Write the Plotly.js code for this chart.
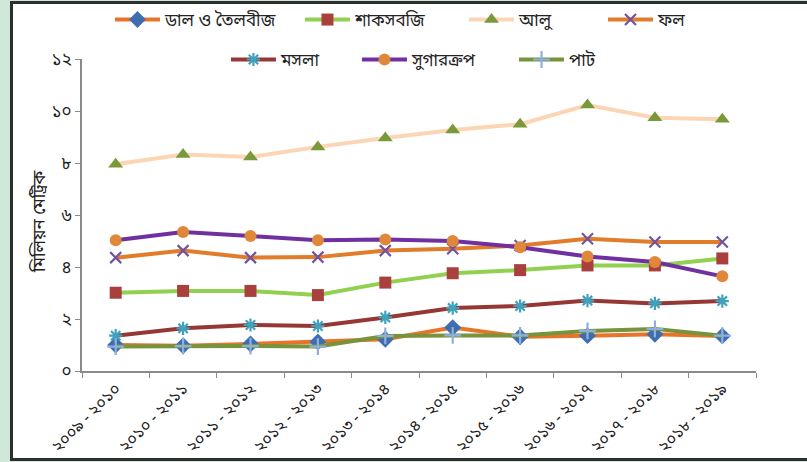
<!DOCTYPE html>
<html>
<head>
<meta charset="utf-8">
<script src="https://cdn.plot.ly/plotly-3.0.1.min.js"></script>
<style>
  html, body { margin:0; padding:0; width:807px; height:462px; overflow:hidden; background:#cfe8d9; }
  #frame { position:absolute; left:10px; top:1px; width:797px; height:454px; background:#fff;
           border-left:3px solid #2e2e2e; border-top:3px solid #2e2e2e; border-bottom:3px solid #2e2e2e; }
  #chart { position:absolute; left:0; top:0; width:807px; height:462px; }
</style>
</head>
<body>
<div id="frame"></div>
<div id="chart"></div>
<script>
const years = ["২০০৯ - ২০১০","২০১০ - ২০১১","২০১১ - ২০১২","২০১২ - ২০১৩","২০১৩ - ২০১৪",
               "২০১৪ - ২০১৫","২০১৫ - ২০১৬","২০১৬ - ২০১৭","২০১৭ - ২০১৮","২০১৮ - ২০১৯"];
const seriesNames = ["ডাল ও তৈলবীজ","শাকসবজি","আলু","ফল","মসলা","সুগারক্রপ","পাট"];
const pulses     = [1.00, 0.97, 1.04, 1.12, 1.22, 1.67, 1.32, 1.36, 1.41, 1.35];
const vegetables = [3.01, 3.08, 3.08, 2.92, 3.40, 3.76, 3.88, 4.06, 4.06, 4.33];
const potato     = [7.95, 8.33, 8.23, 8.62, 8.96, 9.27, 9.49, 10.23, 9.74, 9.68];
const fruit      = [4.36, 4.63, 4.36, 4.38, 4.63, 4.70, 4.83, 5.09, 4.96, 4.96];
const spices     = [1.36, 1.64, 1.77, 1.73, 2.06, 2.42, 2.50, 2.71, 2.60, 2.69];
const sugarcrop  = [5.03, 5.35, 5.19, 5.03, 5.06, 5.00, 4.76, 4.40, 4.19, 3.64];
const jute       = [0.94, 0.96, 0.96, 0.94, 1.35, 1.37, 1.37, 1.54, 1.62, 1.36];
const yTickVals  = [0, 2, 4, 6, 8, 10, 12];
const yTickText  = ["০","২","৪","৬","৮","১০","১২"];
const yTitle     = "মিলিয়ন মেট্রিক";

const FONT = "'Noto Sans Bengali', 'Lohit Bengali', 'Noto Sans', 'DejaVu Sans', sans-serif";

function tr(name, y, lineColor, sym, mColor, mSize, open, legend) {
  const marker = { symbol: sym, size: mSize, color: mColor };
  if (open) marker.line = { color: mColor, width: 2.2 };
  return { type:'scatter', mode:'lines+markers', x: years, y: y, name: name,
           line: { color: lineColor, width: 4 }, marker: marker, legend: legend };
}

const data = [
  tr(seriesNames[0], pulses,     '#E8742A', 'diamond',         '#3F6EB0', 13, false, 'legend'),
  tr(seriesNames[1], vegetables, '#92D050', 'square',          '#A9403D', 12, false, 'legend2'),
  tr(seriesNames[2], potato,     '#FCD5B5', 'triangle-up',     '#7A9A3A', 13, false, 'legend3'),
  tr(seriesNames[3], fruit,      '#E07C2A', 'x-thin-open',     '#7153A0', 11, true,  'legend4'),
  tr(seriesNames[4], spices,     '#953735', 'asterisk-open',   '#3FA3BE', 11, true,  'legend5'),
  tr(seriesNames[5], sugarcrop,  '#7030A0', 'circle',          '#E0883A', 12, false, 'legend6'),
  tr(seriesNames[6], jute,       '#77933C', 'cross-thin-open', '#8EB0DF', 12, true,  'legend7')
];

function leg(x, y) {
  return { orientation: 'h', x: x, xanchor: 'left', y: y, yanchor: 'middle', itemwidth: 45,
           font: { size: 17, family: FONT }, bgcolor: 'rgba(0,0,0,0)' };
}

const layout = {
  width: 807, height: 462,
  margin: { l: 82, r: 51, t: 59, b: 91, autoexpand: false },
  paper_bgcolor: 'rgba(0,0,0,0)', plot_bgcolor: 'rgba(0,0,0,0)',
  font: { family: FONT, color: '#222', size: 14 },
  showlegend: true,
  legend:  leg(0.0415, 1.125),
  legend2: leg(0.3234, 1.125),
  legend3: leg(0.5668, 1.125),
  legend4: leg(0.773,  1.125),
  legend5: leg(0.2136, 0.997),
  legend6: leg(0.408,  0.997),
  legend7: leg(0.641,  0.997),
  xaxis: { type: 'category', range: [-0.5, 9.5], tickson: 'boundaries', ticks: 'outside',
           ticklen: 5, tickcolor: '#8a8a8a', showline: true, linecolor: '#8a8a8a', linewidth: 2,
           showgrid: false, zeroline: false, tickangle: -45, tickfont: { size: 16, family: FONT } },
  yaxis: { range: [0, 12], tickvals: yTickVals, ticktext: yTickText, ticks: 'outside',
           ticklen: 5, tickcolor: '#8a8a8a', showline: true, linecolor: '#8a8a8a', linewidth: 2,
           showgrid: false, zeroline: false, tickfont: { size: 17, family: FONT } },
  annotations: [{ text: yTitle, xref: 'paper', yref: 'y', x: -0.0623, y: 5.73,
                  xanchor: 'center', yanchor: 'middle', textangle: -90, showarrow: false,
                  font: { size: 17, family: FONT, color: '#222' } }]
};

Plotly.newPlot('chart', data, layout, { staticPlot: true, displayModeBar: false });
</script>
</body>
</html>
